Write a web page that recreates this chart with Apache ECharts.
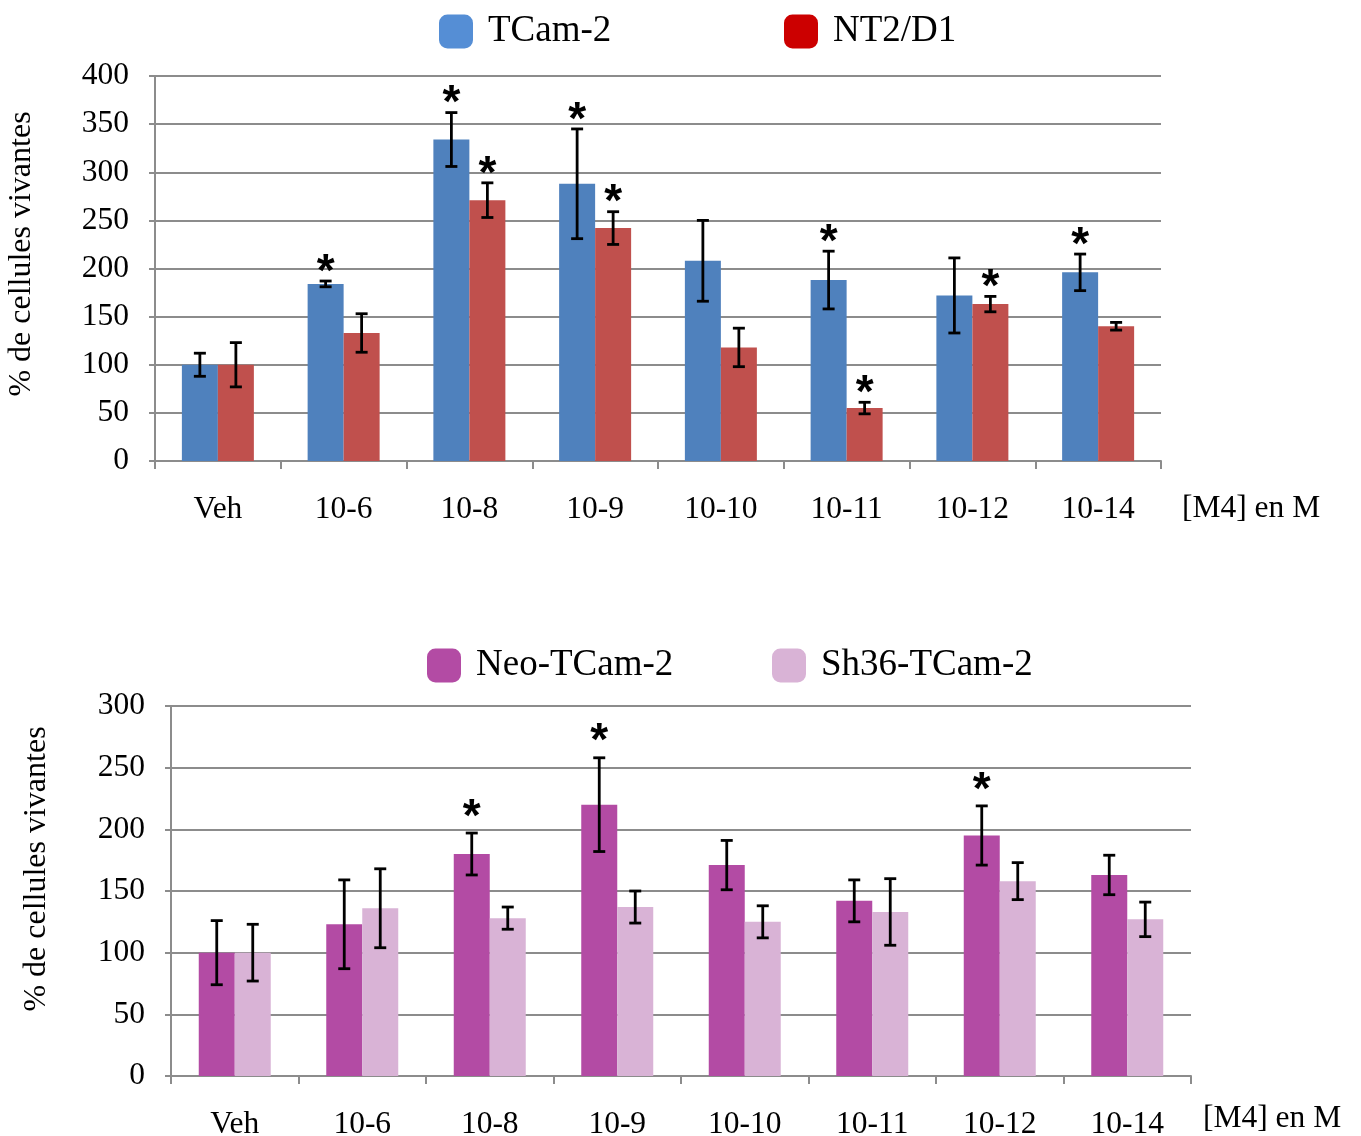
<!DOCTYPE html>
<html>
<head>
<meta charset="utf-8">
<script src="https://cdn.jsdelivr.net/npm/echarts@6/dist/echarts.min.js"></script>
<style>
html,body{margin:0;padding:0;background:#fff;}
#chart{width:1361px;height:1136px;}
</style>
</head>
<body>
<div id="chart"></div>
<script>
// ---------- DATA ----------
var categories = ['Veh', '10-6', '10-8', '10-9', '10-10', '10-11', '10-12', '10-14'];

var tcam    = [100, 184, 334, 288, 208, 188, 172, 196];
var tcamErr = [12, 3, 28, 57, 42, 30, 39, 19];
var tcamSig = [0, 1, 1, 1, 0, 1, 0, 1];

var nt2     = [100, 133, 271, 242, 118, 55, 163, 140];
var nt2Err  = [23, 20, 18, 17, 20, 6, 8, 4];
var nt2Sig  = [0, 0, 1, 1, 0, 1, 1, 0];

var neo     = [100, 123, 180, 220, 171, 142, 195, 163];
var neoErr  = [26, 36, 17, 38, 20, 17, 24, 16];
var neoSig  = [0, 0, 1, 1, 0, 0, 1, 0];

var sh36    = [100, 136, 128, 137, 125, 133, 158, 127];
var sh36Err = [23, 32, 9, 13, 13, 27, 15, 14];
var sh36Sig = [0, 0, 0, 0, 0, 0, 0, 0];

var topTicks = { min: 0, max: 400, interval: 50 };
var bottomTicks = { min: 0, max: 300, interval: 50 };

// ---------- STYLE ----------
var FONT = 'Liberation Serif';
var BAR_W = 36;
var GRID_COLOR = '#8c8c8c';

function errData(vals, errs, sig) {
  return vals.map(function (v, i) { return [i, v, errs[i], sig[i]]; });
}

function errRender(sign, starGap) {
  return function (params, api) {
    var idx = api.value(0), mean = api.value(1), err = api.value(2), sig = api.value(3);
    var hi = api.coord([idx, mean + err]);
    var lo = api.coord([idx, mean - err]);
    var x = hi[0] + sign * BAR_W / 2;
    var st = { stroke: '#000', lineWidth: 2.8 };
    var ch = [
      { type: 'line', shape: { x1: x, y1: hi[1], x2: x, y2: lo[1] }, style: st },
      { type: 'line', shape: { x1: x - 6, y1: hi[1], x2: x + 6, y2: hi[1] }, style: st },
      { type: 'line', shape: { x1: x - 6, y1: lo[1], x2: x + 6, y2: lo[1] }, style: st }
    ];
    if (sig) {
      ch.push({
        type: 'text',
        style: {
          text: '*', x: x, y: hi[1] - starGap,
          font: 'bold 46px "Liberation Sans"', fill: '#000',
          align: 'center', verticalAlign: 'middle'
        }
      });
    }
    return { type: 'group', children: ch };
  };
}

function xAxisCfg(gridIndex, margin) {
  return {
    type: 'category', gridIndex: gridIndex, data: categories,
    axisLine: { lineStyle: { color: GRID_COLOR, width: 2 } },
    axisTick: { show: true, length: 8, lineStyle: { color: GRID_COLOR, width: 2 } },
    axisLabel: { color: '#000', fontFamily: FONT, fontSize: 31.5, margin: margin }
  };
}
function yAxisCfg(gridIndex, t) {
  return {
    type: 'value', gridIndex: gridIndex, min: t.min, max: t.max, interval: t.interval,
    axisLine: { show: true, lineStyle: { color: GRID_COLOR, width: 2 } },
    axisTick: { show: true, length: 6, lineStyle: { color: GRID_COLOR, width: 2 } },
    splitLine: { lineStyle: { color: GRID_COLOR, width: 2 } },
    axisLabel: { color: '#000', fontFamily: FONT, fontSize: 31.5, margin: 26 }
  };
}
function legendCfg(name, color, left, top) {
  return {
    data: [{ name: name, itemStyle: { color: color } }],
    left: left, top: top, itemWidth: 34, itemHeight: 34, icon: 'roundRect',
    textStyle: { fontFamily: FONT, fontSize: 37, color: '#000', padding: [0, 0, 0, 10] }
  };
}

var chart = echarts.init(document.getElementById('chart'));
chart.setOption({
  animation: false,
  backgroundColor: '#fff',
  grid: [
    { left: 155, right: 200, top: 76, height: 385, outerBoundsMode: 'none', containLabel: false },
    { left: 171, right: 170, top: 706, height: 370, outerBoundsMode: 'none', containLabel: false }
  ],
  legend: [
    legendCfg('TCam-2', '#558ED5', 434, 8),
    legendCfg('NT2/D1', '#CC0000', 779, 8),
    legendCfg('Neo-TCam-2', '#B34BA4', 422, 642),
    legendCfg('Sh36-TCam-2', '#D9B3D6', 767, 642)
  ],
  xAxis: [xAxisCfg(0, 33), xAxisCfg(1, 33)],
  yAxis: [yAxisCfg(0, topTicks), yAxisCfg(1, bottomTicks)],
  graphic: [
    { type: 'text', left: 1182, top: 493, style: { text: '[M4] en M', font: '31.5px "Liberation Serif"', fill: '#000' } },
    { type: 'text', left: 1203, top: 1103, style: { text: '[M4] en M', font: '31.5px "Liberation Serif"', fill: '#000' } },
    { type: 'text', x: 22, y: 254, rotation: Math.PI / 2, style: { text: '% de cellules vivantes', font: '32px "Liberation Serif"', fill: '#000', align: 'center', verticalAlign: 'middle' } },
    { type: 'text', x: 37, y: 869, rotation: Math.PI / 2, style: { text: '% de cellules vivantes', font: '32px "Liberation Serif"', fill: '#000', align: 'center', verticalAlign: 'middle' } }
  ],
  series: [
    { name: 'TCam-2', type: 'bar', xAxisIndex: 0, yAxisIndex: 0, data: tcam, barWidth: BAR_W, barGap: '0%', itemStyle: { color: '#4F81BD' } },
    { name: 'NT2/D1', type: 'bar', xAxisIndex: 0, yAxisIndex: 0, data: nt2, barWidth: BAR_W, barGap: '0%', itemStyle: { color: '#C0504D' } },
    { name: 'Neo-TCam-2', type: 'bar', xAxisIndex: 1, yAxisIndex: 1, data: neo, barWidth: BAR_W, barGap: '0%', itemStyle: { color: '#B34BA4' } },
    { name: 'Sh36-TCam-2', type: 'bar', xAxisIndex: 1, yAxisIndex: 1, data: sh36, barWidth: BAR_W, barGap: '0%', itemStyle: { color: '#D9B3D6' } },
    { type: 'custom', xAxisIndex: 0, yAxisIndex: 0, data: errData(tcam, tcamErr, tcamSig), renderItem: errRender(-1, 8), z: 10, clip: false },
    { type: 'custom', xAxisIndex: 0, yAxisIndex: 0, data: errData(nt2, nt2Err, nt2Sig), renderItem: errRender(1, 8), z: 10, clip: false },
    { type: 'custom', xAxisIndex: 1, yAxisIndex: 1, data: errData(neo, neoErr, neoSig), renderItem: errRender(-1, 15), z: 10, clip: false },
    { type: 'custom', xAxisIndex: 1, yAxisIndex: 1, data: errData(sh36, sh36Err, sh36Sig), renderItem: errRender(1, 15), z: 10, clip: false }
  ]
});
</script>
</body>
</html>
